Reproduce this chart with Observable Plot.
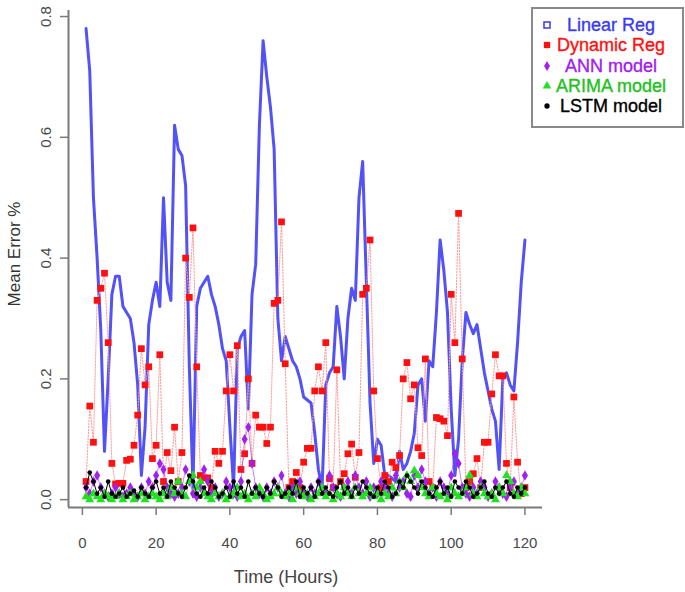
<!DOCTYPE html>
<html>
<head>
<meta charset="utf-8">
<script src="https://cdn.jsdelivr.net/npm/d3@7"></script>
<script src="https://cdn.jsdelivr.net/npm/@observablehq/plot@0.6"></script>
<style>
  html, body { margin: 0; padding: 0; background: #fff; }
  #chart { width: 685px; height: 592px; }
</style>
</head>
<body>
<div id="chart"></div>
<script>
// ---- Data ----
const hours = d3.range(1, 121);

const linearReg = [
  0.78,0.71,0.50,0.40,0.28,0.08,0.20,0.34,0.37,0.37,
  0.32,0.31,0.30,0.26,0.19,0.04,0.12,0.29,0.33,0.36,
  0.32,0.50,0.36,0.33,0.62,0.58,0.57,0.52,0.22,0.02,
  0.32,0.35,0.36,0.37,0.34,0.32,0.29,0.25,0.23,0.12,
  0.02,0.25,0.27,0.28,0.15,0.34,0.39,0.62,0.76,0.70,
  0.65,0.58,0.30,0.23,0.27,0.25,0.23,0.22,0.20,0.17,
  0.165,0.16,0.11,0.05,0.02,0.19,0.21,0.22,0.32,0.27,
  0.20,0.30,0.35,0.33,0.50,0.56,0.36,0.16,0.06,0.10,
  0.09,0.04,0.04,0.035,0.03,0.08,0.05,0.06,0.08,0.11,
  0.19,0.20,0.13,0.23,0.22,0.31,0.43,0.38,0.31,0.15,
  0.04,0.10,0.23,0.31,0.29,0.275,0.29,0.25,0.21,0.18,
  0.15,0.13,0.05,0.20,0.21,0.19,0.18,0.26,0.36,0.43
];

const dynamicReg = [
  0.03,0.155,0.095,0.33,0.35,0.375,0.26,0.06,0.026,0.027,
  0.027,0.065,0.067,0.09,0.14,0.25,0.19,0.22,0.068,0.09,
  0.24,0.03,0.078,0.048,0.12,0.03,0.078,0.40,0.335,0.45,
  0.22,0.04,0.036,0.036,0.02,0.08,0.06,0.08,0.18,0.24,
  0.18,0.255,0.05,0.076,0.20,0.06,0.14,0.12,0.12,0.093,
  0.12,0.325,0.33,0.46,0.225,0.02,0.03,0.045,0.02,0.062,
  0.085,0.085,0.18,0.22,0.18,0.26,0.035,0.02,0.215,0.03,
  0.043,0.076,0.092,0.037,0.078,0.34,0.35,0.43,0.18,0.068,
  0.02,0.04,0.03,0.062,0.053,0.073,0.20,0.227,0.167,0.19,
  0.086,0.073,0.233,0.03,0.02,0.136,0.134,0.13,0.106,0.34,
  0.26,0.474,0.233,0.02,0.03,0.043,0.068,0.02,0.095,0.095,
  0.175,0.24,0.205,0.205,0.06,0.02,0.17,0.062,0.01,0.02
];

const annModel = [
  0.02,0.01,0.03,0.04,0.02,0.01,0.005,0.01,0.02,0.01,
  0.005,0.01,0.02,0.01,0.005,0.02,0.01,0.03,0.02,0.04,
  0.06,0.05,0.02,0.01,0.005,0.01,0.02,0.05,0.03,0.01,
  0.005,0.02,0.05,0.03,0.01,0.02,0.005,0.01,0.03,0.02,
  0.01,0.005,0.03,0.10,0.12,0.06,0.02,0.01,0.005,0.02,
  0.01,0.03,0.02,0.04,0.01,0.005,0.02,0.01,0.03,0.01,
  0.005,0.02,0.01,0.03,0.02,0.01,0.04,0.02,0.01,0.005,
  0.02,0.03,0.01,0.04,0.02,0.01,0.03,0.005,0.02,0.01,
  0.03,0.02,0.01,0.005,0.04,0.02,0.03,0.01,0.005,0.04,
  0.02,0.05,0.03,0.01,0.02,0.005,0.03,0.02,0.01,0.04,
  0.076,0.06,0.02,0.01,0.005,0.02,0.01,0.03,0.02,0.005,
  0.01,0.03,0.02,0.01,0.005,0.02,0.03,0.01,0.02,0.04
];

const arimaModel = [
  0.005,0.0,0.01,0.005,0.0,0.01,0.005,0.0,0.005,0.01,
  0.0,0.005,0.01,0.0,0.005,0.01,0.0,0.005,0.01,0.005,
  0.0,0.01,0.005,0.02,0.01,0.03,0.01,0.005,0.03,0.04,
  0.02,0.03,0.01,0.005,0.0,0.01,0.005,0.01,0.0,0.005,
  0.01,0.02,0.005,0.01,0.0,0.01,0.005,0.02,0.01,0.0,
  0.005,0.01,0.02,0.01,0.005,0.01,0.0,0.02,0.01,0.005,
  0.01,0.0,0.005,0.01,0.02,0.005,0.01,0.0,0.01,0.005,
  0.02,0.01,0.005,0.02,0.01,0.005,0.01,0.02,0.005,0.01,
  0.0,0.01,0.005,0.02,0.01,0.03,0.02,0.04,0.03,0.048,
  0.04,0.02,0.01,0.005,0.02,0.01,0.005,0.01,0.0,0.02,
  0.01,0.005,0.01,0.02,0.04,0.01,0.005,0.02,0.01,0.005,
  0.01,0.0,0.02,0.01,0.04,0.03,0.01,0.005,0.02,0.01
];

const lstmModel = [
  0.02,0.045,0.03,0.01,0.02,0.005,0.03,0.01,0.005,0.01,
  0.02,0.005,0.01,0.015,0.005,0.02,0.01,0.005,0.02,0.03,
  0.01,0.02,0.005,0.03,0.02,0.01,0.005,0.02,0.04,0.03,
  0.01,0.005,0.02,0.01,0.03,0.02,0.005,0.01,0.02,0.005,
  0.03,0.01,0.02,0.005,0.03,0.01,0.02,0.01,0.005,0.02,
  0.01,0.03,0.02,0.005,0.01,0.02,0.01,0.03,0.005,0.02,
  0.01,0.02,0.005,0.03,0.01,0.02,0.01,0.005,0.02,0.03,
  0.01,0.02,0.005,0.02,0.01,0.03,0.02,0.01,0.005,0.02,
  0.01,0.03,0.02,0.005,0.01,0.03,0.02,0.04,0.03,0.02,
  0.01,0.03,0.02,0.01,0.005,0.02,0.03,0.01,0.02,0.005,
  0.03,0.02,0.01,0.03,0.02,0.005,0.01,0.02,0.03,0.01,
  0.005,0.02,0.01,0.02,0.03,0.01,0.005,0.02,0.01,0.02
];

const seriesNames = ["Linear Reg", "Dynamic Reg", "ANN model", "ARIMA model", "LSTM model"];
const seriesColors = ["#3a3af5", "#ff1010", "#a020f0", "#22e022", "#000000"];
const xTicks = [0, 20, 40, 60, 80, 100, 120];
const yTicks = [0.0, 0.2, 0.4, 0.6, 0.8];
const xDomain = [-3.76, 124.76];
const yDomain = [-0.013, 0.81];

// ---- Tables ----
const toRows = (vals) => hours.map((h, i) => ({t: h, v: vals[i]}));
const linRows = toRows(linearReg);
const dynRows = toRows(dynamicReg);
const annRows = toRows(annModel);
const ariRows = toRows(arimaModel);
const lstRows = toRows(lstmModel);

const font = "'Liberation Sans', Arial, Helvetica, sans-serif";

const svg = Plot.plot({
  width: 685,
  height: 592,
  marginLeft: 68,
  marginRight: 143,
  marginTop: 10,
  marginBottom: 85,
  style: {fontFamily: font, fontSize: "15px", color: "#444", background: "#fff"},
  x: {domain: xDomain, label: null},
  y: {domain: yDomain, label: null},
  marks: [
    Plot.ruleX([xDomain[0]], {stroke: "#7a7a7a", strokeWidth: 2}),
    Plot.ruleY([yDomain[0]], {stroke: "#7a7a7a", strokeWidth: 2}),
    Plot.axisX(xTicks, {tickSize: 8, tickPadding: 22, stroke: "#7a7a7a", strokeWidth: 1.5, fill: "#4a4a4a", fontSize: 15, label: null}),
    Plot.axisY(yTicks, {tickSize: 8, tickFormat: () => "", stroke: "#7a7a7a", strokeWidth: 1.5, label: null}),
    Plot.text(yTicks, {y: d => d, text: d => d3.format(".1f")(d), frameAnchor: "left", dx: -22, rotate: -90,
      textAnchor: "middle", lineAnchor: "middle", fill: "#4a4a4a", fontSize: 15}),
    // Linear Reg
    Plot.line(linRows, {x: "t", y: "v", stroke: seriesColors[0], strokeWidth: 3, strokeOpacity: 0.88}),
    // Dynamic Reg
    Plot.line(dynRows, {x: "t", y: "v", stroke: "#ff9a9a", strokeWidth: 1, strokeDasharray: "1.5,1.5"}),
    Plot.dot(dynRows, {x: "t", y: "v", symbol: "square", r: 3.8, fill: seriesColors[1]}),
    // ANN
    Plot.line(annRows, {x: "t", y: "v", stroke: seriesColors[2], strokeWidth: 0.8, strokeOpacity: 0.7}),
    Plot.dot(annRows, {x: "t", y: "v", symbol: "diamond", r: 3.2, fill: seriesColors[2]}),
    // ARIMA
    Plot.line(ariRows, {x: "t", y: "v", stroke: seriesColors[3], strokeWidth: 0.8, strokeOpacity: 0.7}),
    Plot.dot(ariRows, {x: "t", y: "v", symbol: "triangle", r: 3.3, fill: seriesColors[3]}),
    // LSTM
    Plot.line(lstRows, {x: "t", y: "v", stroke: seriesColors[4], strokeWidth: 1}),
    Plot.dot(lstRows, {x: "t", y: "v", r: 2.3, fill: seriesColors[4]})
  ]
});

const s = d3.select(svg);
// Axis titles
s.append("text").attr("x", 286).attr("y", 578).attr("text-anchor", "middle")
  .attr("dominant-baseline", "middle").attr("font-family", font).attr("font-size", 18)
  .attr("fill", "#444").text("Time (Hours)");
s.append("text").attr("transform", "translate(16,254) rotate(-90)").attr("text-anchor", "middle")
  .attr("dominant-baseline", "middle").attr("font-family", font).attr("font-size", 17)
  .attr("fill", "#333").text("Mean Error %");

// Legend
const lg = s.append("g");
lg.append("rect").attr("x", 532).attr("y", 8).attr("width", 151).attr("height", 119)
  .attr("fill", "#fff").attr("stroke", "#8a8a8a").attr("stroke-width", 2);
const rowY = [25, 45, 66, 86, 106];
const symbols = [d3.symbolSquare, d3.symbolSquare, d3.symbolDiamond, d3.symbolTriangle, d3.symbolCircle];
const symSize = [36, 40, 30, 32, 22];
seriesNames.forEach((name, i) => {
  const sym = lg.append("path").attr("d", d3.symbol(symbols[i], symSize[i])())
    .attr("transform", `translate(547,${rowY[i]})`);
  if (i === 0) sym.attr("fill", "none").attr("stroke", seriesColors[i]).attr("stroke-width", 1.5);
  else sym.attr("fill", seriesColors[i]);
  const col = i === 3 ? "#22c022" : seriesColors[i];
  lg.append("text").attr("x", 611).attr("y", rowY[i] + 1).attr("text-anchor", "middle")
    .attr("dominant-baseline", "middle").attr("font-family", font).attr("font-size", 18)
    .attr("textLength", null)
    .attr("fill", col).attr("stroke", col).attr("stroke-width", 0.35).text(name);
});

document.getElementById("chart").appendChild(svg);
</script>
</body>
</html>
